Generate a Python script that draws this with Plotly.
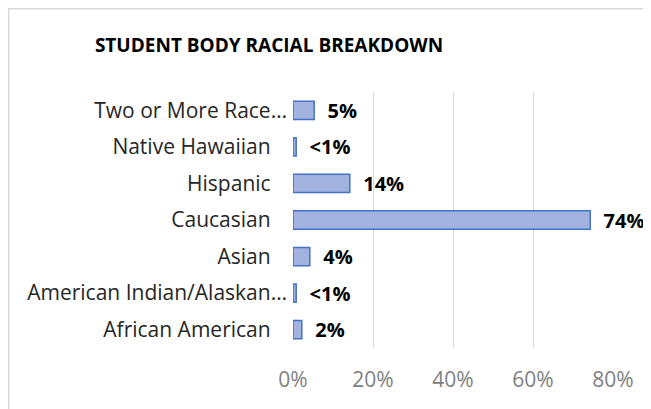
import plotly.graph_objects as go

categories = ["African American", "American Indian/Alaskan…", "Asian", "Caucasian",
              "Hispanic", "Native Hawaiian", "Two or More Race…"]
values = [0.022, 0.008, 0.042, 0.743, 0.142, 0.008, 0.053]
value_labels = ["2%", "<1%", "4%", "74%", "14%", "<1%", "5%"]
x_tickvals = [0, 0.2, 0.4, 0.6, 0.8]
x_ticktext = ["0%", "20%", "40%", "60%", "80%"]

# Excel pads the non-truncated category labels further from the axis
pad = "\u00a0" * 3
cat_text = [c if c.endswith("…") else c + pad for c in categories]

FONT = "Open Sans"
W, H = 643, 401  # page body has an 8px margin
L, R, T, B = 285, 38, 84, 61
PW, PH = W - L - R, H - T - B

fig = go.Figure(go.Bar(
    x=values, y=categories, orientation="h",
    marker=dict(color="#a3b3e0", line=dict(color="#4472c4", width=1.5)),
    width=0.5,
    text=["\u00a0\u00a0" + t for t in value_labels],
    textposition="outside", cliponaxis=False, constraintext="none",
    textfont=dict(family=FONT, size=20, color="#000000", weight="bold"),
))

fig.update_layout(
    width=W, height=H,
    margin=dict(l=L, r=R, t=T, b=B),
    paper_bgcolor="white", plot_bgcolor="white",
    showlegend=False,
    font=dict(family=FONT),
    title=dict(text="<b>STUDENT BODY RACIAL BREAKDOWN</b>", x=261 / W, xanchor="center",
               y=1 - 37 / H, yanchor="middle",
               font=dict(family=FONT, size=19, color="#000000")),
    xaxis=dict(range=[0, 0.8], tickvals=x_tickvals, ticktext=x_ticktext,
               showgrid=True, gridcolor="#d9d9d9", gridwidth=1.2,
               zeroline=False, showline=False, ticks="",
               ticklabelstandoff=17,
               tickfont=dict(family=FONT, size=21, color="#7f7f7f")),
    yaxis=dict(type="category", categoryorder="array", categoryarray=categories,
               tickvals=categories, ticktext=cat_text,
               showgrid=False, zeroline=False, showline=False, ticks="",
               ticklabelstandoff=5,
               tickfont=dict(family=FONT, size=21, color="#262626")),
    shapes=[dict(type="rect", xref="paper", yref="paper",
                 x0=(0.75 - L) / PW, x1=1.3, y0=-0.3, y1=(H - B - 0.75) / PH,
                 line=dict(color="#d9d9d9", width=1.5), fillcolor="rgba(0,0,0,0)",
                 layer="below")],
)

fig.write_html("out.html")
